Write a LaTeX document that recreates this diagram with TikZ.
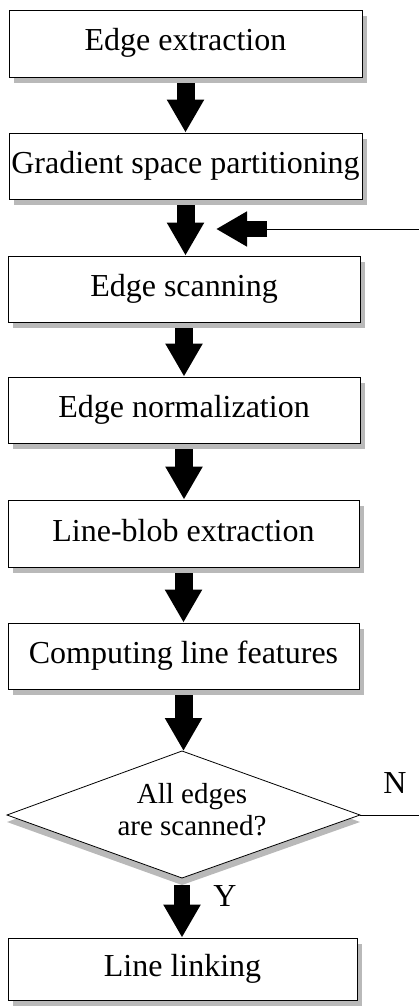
\documentclass[tikz,border=0pt]{standalone}
\usepackage{fontspec}
\setmainfont{Liberation Serif}
\usetikzlibrary{arrows.meta,shadows}
\begin{document}
\begin{tikzpicture}[x=1pt,y=-1pt,
  box/.style={draw=black, line width=0.8pt, fill=white, inner sep=0pt,
    font=\fontsize{32}{38}\selectfont, text height=22pt, text depth=7pt,
    drop shadow={shadow xshift=5pt, shadow yshift=-6pt, fill=gray!55, opacity=1}},
  flow/.style={line width=18pt, -{Triangle[length=33pt,width=35pt]}},
  lbl/.style={font=\fontsize{32}{38}\selectfont, inner sep=0pt},
  thinline/.style={draw=black, line width=0.8pt}]
\useasboundingbox (0,0) rectangle (419,1006);

% boxes
\node[box, minimum width=353pt, minimum height=67pt] (b1) at (185.5,43.5) {Edge extraction};
\node[box, minimum width=353pt, minimum height=66pt] (b2) at (185.5,166) {Gradient space partitioning};
\node[box, minimum width=352pt, minimum height=66pt] (b3) at (184,289) {Edge scanning};
\node[box, minimum width=352pt, minimum height=66pt] (b4) at (184,410) {Edge normalization};
\node[box, minimum width=351pt, minimum height=67pt] (b5) at (183.5,533.5) {Line-blob extraction};
\node[box, minimum width=351pt, minimum height=66pt] (b6) at (183.5,656) {Computing line features};
\node[box, minimum width=349pt, minimum height=62pt] (b7) at (182.5,969) {Line linking};

% decision diamond
\coordinate (dT) at (182,751);
\coordinate (dL) at (7,815);
\coordinate (dR) at (360,815);
\coordinate (dB) at (182,878);
\fill[gray!55] ([yshift=-7pt]dT) -- ([yshift=-7pt]dR) -- ([yshift=-7pt]dB) -- ([yshift=-7pt]dL) -- cycle;
\draw[thinline, fill=white] (dT) -- (dR) -- (dB) -- (dL) -- cycle;
\node[font=\fontsize{29}{32}\selectfont, align=center, inner sep=0pt] (dec) at (192,810) {All edges\\are scanned?};

% flow arrows
\draw[flow] ([yshift=-6pt]b1.south) -- (b1.south |- b2.north);
\draw[flow] ([yshift=-6pt]b2.south) -- (b2.south |- b3.north);
\draw[flow] ([yshift=-6pt]b3.south) -- (b3.south |- b4.north);
\draw[flow] ([yshift=-6pt]b4.south) -- (b4.south |- b5.north);
\draw[flow] ([yshift=-6pt]b5.south) -- (b5.south |- b6.north);
\draw[flow] ([yshift=-6pt]b6.south) -- (b6.south |- dT);
\draw[flow, line width=16pt] ([yshift=-7pt]dB) -- (dB |- b7.north);

% feedback arrow (enters from the right)
\coordinate (fbE) at (419,229);
\coordinate (fbS) at (267,229);
\coordinate (fbT) at (216,229);
\draw[thinline] (fbE) -- (fbS);
\draw[line width=16pt, -{Triangle[length=31pt,width=33pt]}] (fbS) -- (fbT);

% N branch
\coordinate (nE) at (419,815);
\draw[thinline] (dR) -- (nE);
\node[lbl] (nl) at (395,783) {N};
\node[lbl] (yl) at (225,896) {Y};
\end{tikzpicture}
\end{document}
